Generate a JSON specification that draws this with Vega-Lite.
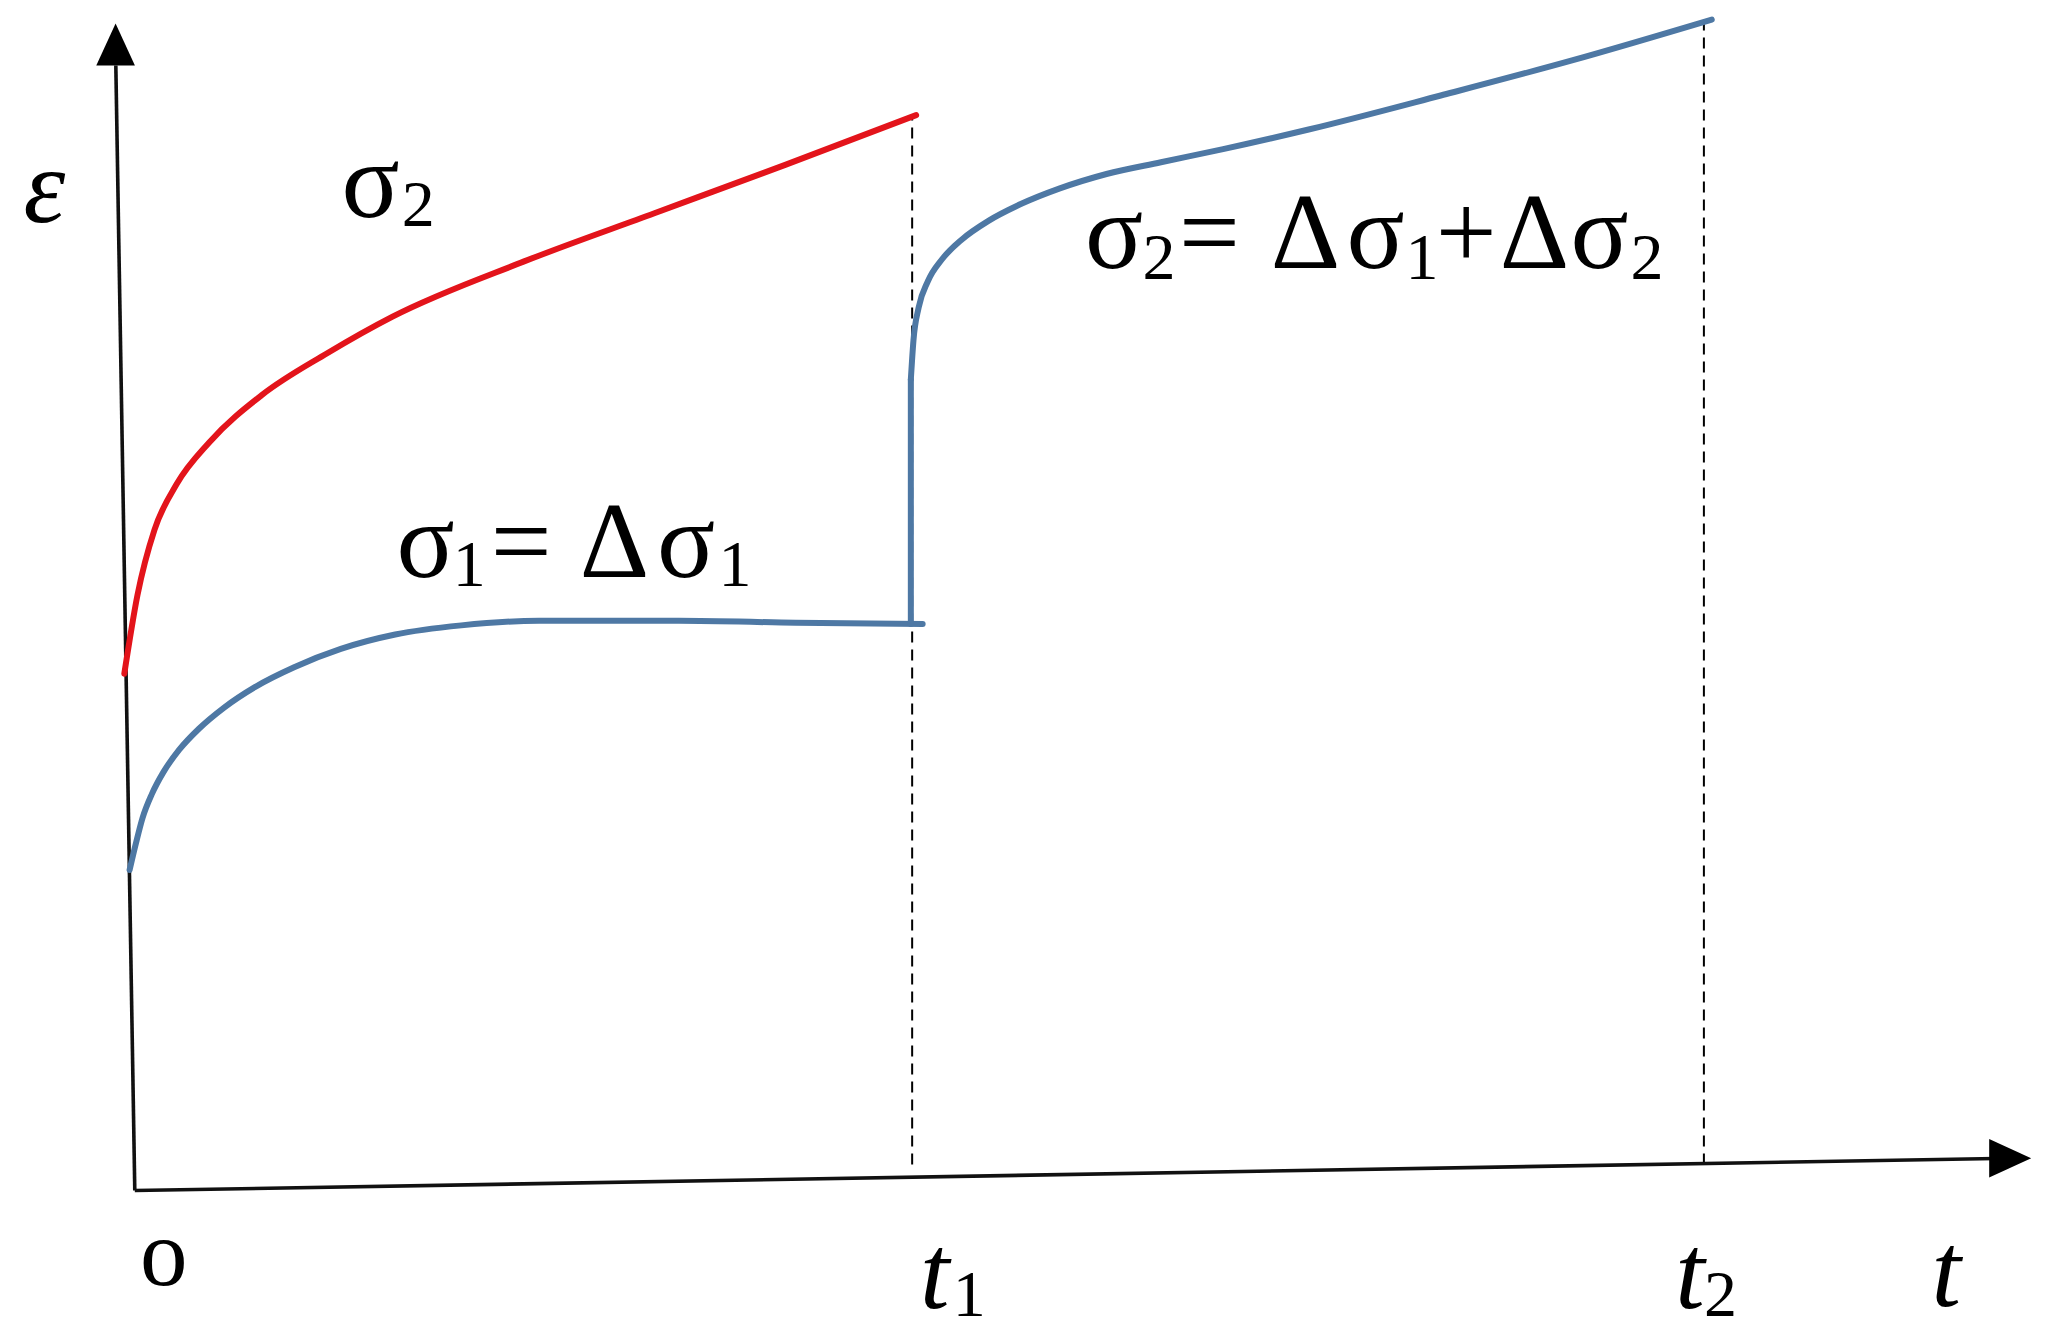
{
  "$schema": "https://vega.github.io/schema/vega-lite/v6.json",
  "width": 2052,
  "height": 1341,
  "padding": 0,
  "autosize": {"type": "fit", "contains": "padding"},
  "background": "white",
  "config": {"view": {"stroke": null}},
  "datasets": {
    "axes": [
      {"axis": "y", "t": 0, "e": 0},
      {"axis": "y", "t": -0.0244, "e": 8.6},
      {"axis": "x", "t": 0, "e": 0},
      {"axis": "x", "t": 2.394, "e": 0.245}
    ],
    "arrows": [
      {"dir": "up", "t": -0.0247, "e": 8.76},
      {"dir": "right", "t": 2.4125, "e": 0.247}
    ],
    "guides": [
      {"t": 1.0, "e": 0.2, "e2": 8.22},
      {"t": 2.0185, "e": 0.2, "e2": 8.93}
    ],
    "curves": [
      {"s": "red", "i": 0, "t": -0.0135, "e": 3.95},
      {"s": "red", "i": 1, "t": 0.0034, "e": 4.55},
      {"s": "red", "i": 2, "t": 0.0253, "e": 5.05},
      {"s": "red", "i": 3, "t": 0.0539, "e": 5.4},
      {"s": "red", "i": 4, "t": 0.096, "e": 5.72},
      {"s": "red", "i": 5, "t": 0.1633, "e": 6.08},
      {"s": "red", "i": 6, "t": 0.2475, "e": 6.4},
      {"s": "red", "i": 7, "t": 0.3316, "e": 6.68},
      {"s": "red", "i": 8, "t": 0.5, "e": 7.1},
      {"s": "red", "i": 9, "t": 0.6684, "e": 7.47},
      {"s": "red", "i": 10, "t": 0.8367, "e": 7.84},
      {"s": "red", "i": 11, "t": 1.0051, "e": 8.22},
      {"s": "blue1", "i": 0, "t": -0.0067, "e": 2.45},
      {"s": "blue1", "i": 1, "t": 0.0017, "e": 2.66},
      {"s": "blue1", "i": 2, "t": 0.0101, "e": 2.85},
      {"s": "blue1", "i": 3, "t": 0.0219, "e": 3.03},
      {"s": "blue1", "i": 4, "t": 0.037, "e": 3.2},
      {"s": "blue1", "i": 5, "t": 0.0572, "e": 3.37},
      {"s": "blue1", "i": 6, "t": 0.0825, "e": 3.53},
      {"s": "blue1", "i": 7, "t": 0.1145, "e": 3.69},
      {"s": "blue1", "i": 8, "t": 0.155, "e": 3.85},
      {"s": "blue1", "i": 9, "t": 0.205, "e": 4.0},
      {"s": "blue1", "i": 10, "t": 0.265, "e": 4.14},
      {"s": "blue1", "i": 11, "t": 0.335, "e": 4.25},
      {"s": "blue1", "i": 12, "t": 0.42, "e": 4.32},
      {"s": "blue1", "i": 13, "t": 0.52, "e": 4.355},
      {"s": "blue1", "i": 14, "t": 0.7, "e": 4.355},
      {"s": "blue1", "i": 15, "t": 0.85, "e": 4.34},
      {"s": "blue1", "i": 16, "t": 1.0135, "e": 4.33},
      {"s": "jump", "i": 0, "t": 0.9983, "e": 4.33},
      {"s": "jump", "i": 1, "t": 0.9983, "e": 6.2},
      {"s": "blue2", "i": 0, "t": 0.9983, "e": 6.2},
      {"s": "blue2", "i": 1, "t": 1.0017, "e": 6.5},
      {"s": "blue2", "i": 2, "t": 1.0084, "e": 6.75},
      {"s": "blue2", "i": 3, "t": 1.0202, "e": 6.95},
      {"s": "blue2", "i": 4, "t": 1.0387, "e": 7.12},
      {"s": "blue2", "i": 5, "t": 1.064, "e": 7.27},
      {"s": "blue2", "i": 6, "t": 1.0976, "e": 7.41},
      {"s": "blue2", "i": 7, "t": 1.1397, "e": 7.54},
      {"s": "blue2", "i": 8, "t": 1.19, "e": 7.66},
      {"s": "blue2", "i": 9, "t": 1.25, "e": 7.77},
      {"s": "blue2", "i": 10, "t": 1.32, "e": 7.86},
      {"s": "blue2", "i": 11, "t": 1.4, "e": 7.96},
      {"s": "blue2", "i": 12, "t": 1.51, "e": 8.11},
      {"s": "blue2", "i": 13, "t": 1.68, "e": 8.37},
      {"s": "blue2", "i": 14, "t": 1.85, "e": 8.64},
      {"s": "blue2", "i": 15, "t": 2.0286, "e": 8.95}
    ],
    "upright": [
      {"label": "σ", "t": 0.266, "e": 7.44},
      {"label": "σ", "t": 0.3367, "e": 4.69},
      {"label": "=", "t": 0.4579, "e": 4.69},
      {"label": "Δ", "t": 0.5724, "e": 4.69},
      {"label": "σ", "t": 0.6717, "e": 4.69},
      {"label": "σ", "t": 1.2222, "e": 7.05},
      {"label": "=", "t": 1.3434, "e": 7.05},
      {"label": "Δ", "t": 1.4613, "e": 7.05},
      {"label": "σ", "t": 1.5589, "e": 7.05},
      {"label": "+", "t": 1.6734, "e": 7.05},
      {"label": "Δ", "t": 1.7559, "e": 7.05},
      {"label": "σ", "t": 1.8468, "e": 7.05}
    ],
    "subs": [
      {"label": "2", "t": 0.3434, "e": 7.37},
      {"label": "1", "t": 0.4091, "e": 4.62},
      {"label": "1", "t": 0.751, "e": 4.62},
      {"label": "2", "t": 1.2963, "e": 6.97},
      {"label": "1", "t": 1.6347, "e": 6.97},
      {"label": "2", "t": 1.924, "e": 6.97},
      {"label": "1", "t": 1.0522, "e": -0.96},
      {"label": "2", "t": 2.0185, "e": -0.96}
    ],
    "italic": [
      {"label": "ε", "t": -0.1431, "e": 7.4},
      {"label": "t", "t": 1.0101, "e": -0.9},
      {"label": "t", "t": 1.9815, "e": -0.9},
      {"label": "t", "t": 2.3114, "e": -0.88}
    ],
    "origin": [
      {"label": "o", "t": 0.0067, "e": -0.72}
    ]
  },
  "encoding": {
    "x": {"field": "t", "type": "quantitative", "scale": {"domain": [-0.1734, 2.4663], "nice": false, "zero": false}, "axis": null},
    "y": {"field": "e", "type": "quantitative", "scale": {"domain": [-1.15, 9.1], "nice": false, "zero": false}, "axis": null}
  },
  "layer": [
    {
      "data": {"name": "guides"},
      "mark": {"type": "rule", "color": "black", "strokeWidth": 2, "strokeDash": [11, 7]},
      "encoding": {"y2": {"field": "e2"}}
    },
    {
      "data": {"name": "axes"},
      "mark": {"type": "line", "color": "#111111", "strokeWidth": 3.6},
      "encoding": {"detail": {"field": "axis", "type": "nominal"}}
    },
    {
      "data": {"name": "arrows"},
      "mark": {"type": "point", "filled": true, "color": "black", "opacity": 1, "size": 1764, "strokeWidth": 0},
      "encoding": {
        "shape": {"field": "dir", "type": "nominal", "legend": null,
          "scale": {"domain": ["up", "right"], "range": ["M0,-1L0.92,1L-0.92,1Z", "M1,0L-1,-0.92L-1,0.92Z"]}}
      }
    },
    {
      "data": {"name": "curves"},
      "mark": {"type": "line", "strokeWidth": 6, "interpolate": "monotone", "strokeCap": "round"},
      "encoding": {
        "color": {"field": "s", "type": "nominal", "legend": null,
          "scale": {"domain": ["red", "blue1", "jump", "blue2"], "range": ["#e3141b", "#4e78a4", "#4e78a4", "#4e78a4"]}},
        "detail": {"field": "s", "type": "nominal"},
        "order": {"field": "i", "type": "quantitative"}
      }
    },
    {
      "data": {"name": "upright"},
      "mark": {"type": "text", "font": "Liberation Serif", "fontSize": 108, "align": "left", "baseline": "alphabetic", "color": "black"},
      "encoding": {"text": {"field": "label", "type": "nominal"}}
    },
    {
      "data": {"name": "subs"},
      "mark": {"type": "text", "font": "Liberation Serif", "fontSize": 66, "align": "left", "baseline": "alphabetic", "color": "black"},
      "encoding": {"text": {"field": "label", "type": "nominal"}}
    },
    {
      "data": {"name": "italic"},
      "mark": {"type": "text", "font": "Liberation Serif", "fontStyle": "italic", "fontSize": 106, "align": "left", "baseline": "alphabetic", "color": "black"},
      "encoding": {"text": {"field": "label", "type": "nominal"}}
    },
    {
      "data": {"name": "origin"},
      "mark": {"type": "text", "font": "Liberation Serif", "fontSize": 95, "align": "left", "baseline": "alphabetic", "color": "black"},
      "encoding": {"text": {"field": "label", "type": "nominal"}}
    }
  ]
}
